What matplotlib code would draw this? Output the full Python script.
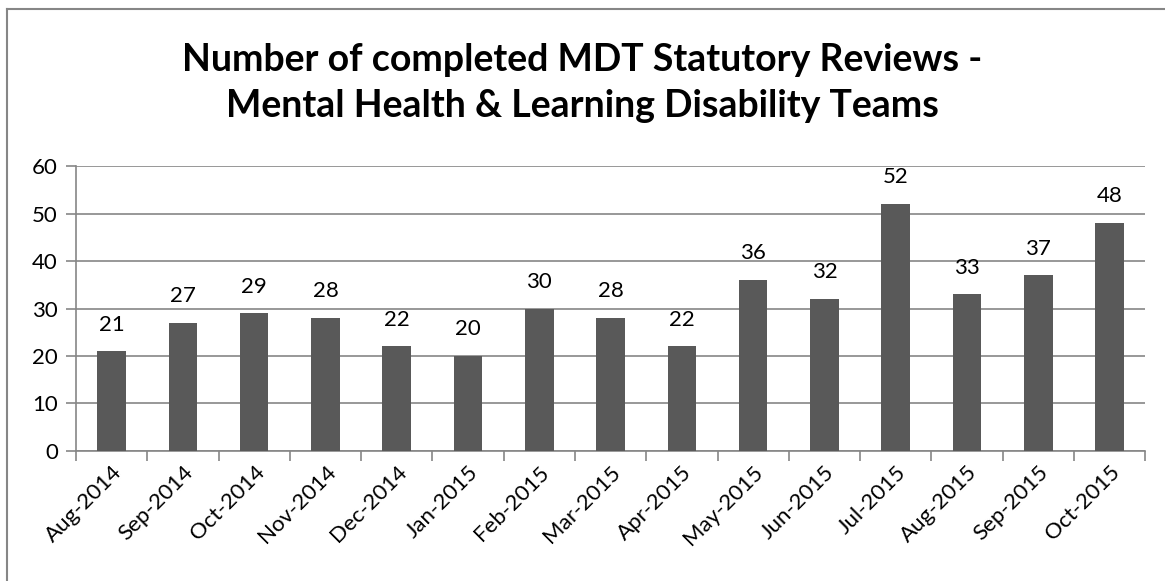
import matplotlib.pyplot as plt
from matplotlib.lines import Line2D
import numpy as np

# chart data
months = ['Aug-2014', 'Sep-2014', 'Oct-2014', 'Nov-2014', 'Dec-2014', 'Jan-2015',
          'Feb-2015', 'Mar-2015', 'Apr-2015', 'May-2015', 'Jun-2015', 'Jul-2015',
          'Aug-2015', 'Sep-2015', 'Oct-2015']
reviews = [21, 27, 29, 28, 22, 20, 30, 28, 22, 36, 32, 52, 33, 37, 48]

plt.rcParams['font.family'] = ['Lato', 'DejaVu Sans']

grey = '#868686'
bar_col = '#595959'

fig = plt.figure(figsize=(11.65, 5.81), dpi=100)
ax = fig.add_axes([0.0652, 0.224, 0.9178, 0.490])

x = np.arange(len(months))
ax.bar(x, reviews, width=0.4, color=bar_col, zorder=3)
for xi, v in zip(x, reviews):
    ax.annotate(str(v), (xi, v), xytext=(0, 12), textcoords='offset points',
                ha='center', va='bottom', fontsize=16, color='black')

ax.set_xlim(-0.5, len(months) - 0.5)
ax.set_ylim(0, 60)
ax.set_yticks(range(0, 61, 10))
ax.yaxis.grid(True, color=grey, linewidth=1.2, zorder=0)
ax.tick_params(axis='y', length=7, width=1.2, color=grey, labelsize=16, pad=6)

# category ticks sit on the boundaries, labels at bar centres
ax.set_xticks(np.arange(-0.5, len(months)), minor=False)
ax.set_xticklabels([])
ax.set_xticks(x, minor=True)
ax.set_xticklabels(months, minor=True, rotation=45, ha='right', rotation_mode='anchor', fontsize=16)
ax.tick_params(axis='x', which='major', length=7, width=1.2, color=grey)
ax.tick_params(axis='x', which='minor', length=0, pad=8)

for side in ['top', 'right']:
    ax.spines[side].set_visible(False)
for side in ['left', 'bottom']:
    ax.spines[side].set_color(grey)
    ax.spines[side].set_linewidth(1.2)

fig.text(0.5, 0.857, 'Number of completed MDT Statutory Reviews -\nMental Health & Learning Disability Teams',
         ha='center', va='center', fontsize=27, fontweight='bold', linespacing=1.4)

# chart border (only left and top edges visible, rest cropped)
fig.lines.append(Line2D([0.006, 0.006], [0.0, 0.985], transform=fig.transFigure, color=grey, linewidth=1.5))
fig.lines.append(Line2D([0.006, 1.0], [0.985, 0.985], transform=fig.transFigure, color=grey, linewidth=1.5))

fig.savefig('out.png', dpi=100)
